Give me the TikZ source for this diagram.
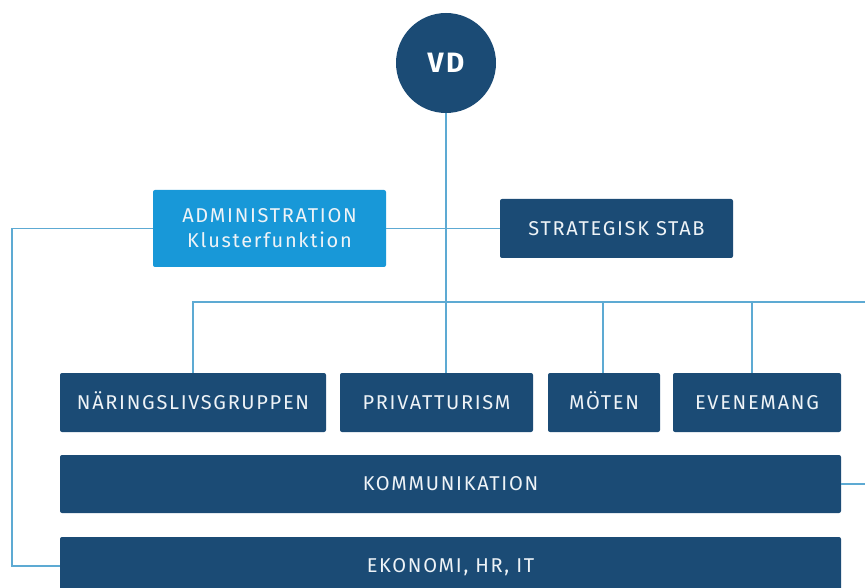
\documentclass[tikz,border=0pt]{standalone}
\usepackage{fontspec}
\setmainfont{Fira Sans}[LetterSpace=8.5]
\definecolor{navy}{HTML}{1B4B75}
\definecolor{sky}{HTML}{1898D8}
\definecolor{wirecol}{HTML}{5DAAD3}
\definecolor{label}{HTML}{EEF3F7}
\tikzset{unitbase/.style={fill=navy, text=label, rounded corners=2pt, inner sep=0pt,
  minimum height=59pt, font=\fontsize{20}{25}\selectfont},
  unit/.style={unitbase, text height=13.8pt, text depth=0pt},
  wire/.style={draw=wirecol, line width=1.5pt}}

\begin{document}
\begin{tikzpicture}[x=1pt,y=-1pt]
\useasboundingbox (0,0) rectangle (865,588);
% top of the chart
\node[circle, fill=navy, text=white, minimum size=100pt, inner sep=0pt,
  font=\fontsize{28}{32}\bfseries] (vd) at (446,63) {VD};
\node[unitbase, fill=sky, minimum width=233pt, minimum height=77pt, align=center]
  (admin) at (269.5,228.5) {ADMINISTRATION\\Klusterfunktion};
\node[unit, minimum width=233pt] (stab) at (616.5,228.5) {STRATEGISK STAB};
% the four units
\node[unit, minimum width=266pt] (nar) at (193,402.5) {NÄRINGSLIVSGRUPPEN};
\node[unit, minimum width=193pt] (priv) at (436.5,402.5) {PRIVATTURISM};
\node[unit, minimum width=112pt] (moten) at (604,402.5) {MÖTEN};
\node[unit, minimum width=168pt] (even) at (757,402.5) {EVENEMANG};
% the wide ones
\node[unit, minimum width=781pt, minimum height=58pt] (komm) at (450.5,484) {KOMMUNIKATION};
\node[unit, minimum width=781pt, minimum height=58pt] (eko) at (450.5,566) {EKONOMI, HR, IT};
% lines
\coordinate (busend) at (868,302);
\coordinate (komend) at (868,484);
\coordinate (lefttop) at (12,228.5);
\draw[wire] (vd.south) -- (vd.south |- priv.north);
\draw[wire] (admin.east) -- (stab.west);
\draw[wire] (nar.north) -- (nar.north |- busend) -- (busend) -- (komend) -- (komm.east);
\foreach \u/\dx in {moten/-1,even/-5} % edit here for the drops
\draw[wire] ([xshift=\dx pt]\u.north) -- ([xshift=\dx pt]\u.north |- busend);
\draw[wire] (admin.west) -- (lefttop) -- (lefttop |- eko.west) -- (eko.west);
\end{tikzpicture}
\end{document}
